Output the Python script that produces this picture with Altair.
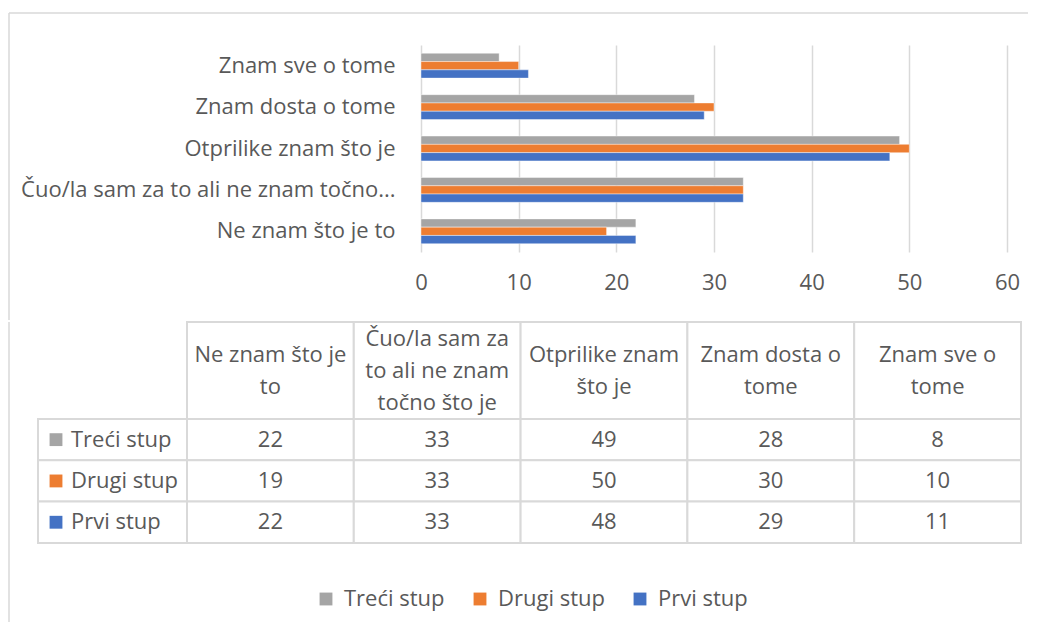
import altair as alt
import pandas as pd

# ---- data ----
categories = ["Ne znam što je to", "Čuo/la sam za to ali ne znam točno što je",
              "Otprilike znam što je", "Znam dosta o tome", "Znam sve o tome"]
axis_labels = ["Ne znam što je to", "Čuo/la sam za to ali ne znam točno...",
               "Otprilike znam što je", "Znam dosta o tome", "Znam sve o tome"]
header_labels = ["Ne znam što je\nto", "Čuo/la sam za\nto ali ne znam\ntočno što je",
                 "Otprilike znam\nšto je", "Znam dosta o\ntome", "Znam sve o\ntome"]
series = ["Treći stup", "Drugi stup", "Prvi stup"]
treci_stup = [22, 33, 49, 28, 8]
drugi_stup = [19, 33, 50, 30, 10]
prvi_stup = [22, 33, 48, 29, 11]
x_ticks = [0, 10, 20, 30, 40, 50, 60]
series_colors = ["#A5A5A5", "#ED7D31", "#4472C4"]

# ---- style / layout ----
FONT = "Open Sans"
TEXT = "#595959"
GRID = "#D9D9D9"
FS = 22
LINE_H = 32

PANEL_W = 983
BAR_H = 207
BAR_BLOCK = 275          # bar panel block height down to the table top
PLOT_X0, PLOT_X1 = 383, 969
HEAD_COL_W = 149
COL_W = (PANEL_W - HEAD_COL_W) / 5
HEAD_ROW_H = 97
ROW_H = 41.3
TABLE_H = HEAD_ROW_H + 3 * ROW_H

values = [treci_stup, drugi_stup, prvi_stup]

bar_df = pd.DataFrame([
    {"cat": lab, "series": s, "value": v}
    for s, vals in zip(series, values)
    for lab, v in zip(axis_labels, vals)
])

legend = alt.Legend(
    title=None, orient="none", legendX=277, legendY=543, direction="horizontal",
    symbolType="square", symbolSize=165, symbolStrokeWidth=0, symbolOpacity=1,
    labelFont=FONT, labelFontSize=FS, labelColor=TEXT, columnPadding=24, labelOffset=7,
)
color_scale = alt.Scale(domain=series, range=series_colors)

bars = alt.Chart(bar_df).mark_bar(stroke="white", strokeWidth=0.6, strokeOpacity=0.7).encode(
    x=alt.X("value:Q",
            scale=alt.Scale(domain=[0, 60], range=[PLOT_X0, PLOT_X1], nice=False, zero=True),
            axis=alt.Axis(values=x_ticks, title=None, ticks=False, domain=False, grid=True,
                          gridColor=GRID, gridWidth=1.5, labelFont=FONT, labelFontSize=FS,
                          labelColor=TEXT, labelPadding=20, labelFlush=False)),
    y=alt.Y("cat:N", sort=axis_labels[::-1],
            scale=alt.Scale(paddingInner=0.4, paddingOuter=0.2),
            axis=alt.Axis(title=None, ticks=False, domain=False, offset=-PLOT_X0,
                          labelPadding=26, labelFont=FONT, labelFontSize=FS,
                          labelColor=TEXT, labelLimit=600)),
    yOffset=alt.YOffset("series:N", sort=series,
                        scale=alt.Scale(paddingInner=0, paddingOuter=0)),
    color=alt.Color("series:N", scale=color_scale, legend=legend),
)

one = pd.DataFrame({"k": [0]})
frame_top = alt.Chart(one).mark_rule(color=GRID, strokeWidth=1.5).encode(
    x=alt.value(-29), x2=alt.value(990), y=alt.value(-32))
frame_left_a = alt.Chart(one).mark_rule(color=GRID, strokeWidth=1.5).encode(
    x=alt.value(-29), y=alt.value(-32), y2=alt.value(BAR_BLOCK))

bar_panel = alt.layer(frame_top, frame_left_a, bars).properties(width=PANEL_W, height=BAR_H)

# ---- table ----
cells = []
for i, lab in enumerate(header_labels):
    x1 = HEAD_COL_W + i * COL_W
    n_lines = lab.count("\n") + 1
    cells.append({"x1": x1, "x2": x1 + COL_W, "y1": 0, "y2": HEAD_ROW_H,
                  "xc": x1 + COL_W / 2, "yc": HEAD_ROW_H / 2 - (n_lines - 1) * LINE_H / 2,
                  "label": lab, "kind": "head"})
for r, (s, vals) in enumerate(zip(series, values)):
    y1 = HEAD_ROW_H + r * ROW_H
    cells.append({"x1": 0, "x2": HEAD_COL_W, "y1": y1, "y2": y1 + ROW_H,
                  "xc": 33, "yc": y1 + ROW_H / 2, "label": s, "kind": "rowhead",
                  "series": s, "sx": 18})
    for i, v in enumerate(vals):
        x1 = HEAD_COL_W + i * COL_W
        cells.append({"x1": x1, "x2": x1 + COL_W, "y1": y1, "y2": y1 + ROW_H,
                      "xc": x1 + COL_W / 2, "yc": y1 + ROW_H / 2, "label": str(v),
                      "kind": "value"})
cells_df = pd.DataFrame(cells)

xs = alt.Scale(domain=[0, PANEL_W], nice=False, zero=False)
ys = alt.Scale(domain=[0, TABLE_H], nice=False, zero=False, reverse=True)

base = alt.Chart(cells_df)
rects = base.mark_rect(fill="white", stroke=GRID, strokeWidth=2).encode(
    x=alt.X("x1:Q", scale=xs, axis=None), x2="x2:Q",
    y=alt.Y("y1:Q", scale=ys, axis=None), y2="y2:Q")
center_text = base.mark_text(font=FONT, fontSize=FS, color=TEXT, align="center",
                             baseline="middle", lineBreak="\n", lineHeight=LINE_H).encode(
    x=alt.X("xc:Q", scale=xs, axis=None), y=alt.Y("yc:Q", scale=ys, axis=None),
    text="label:N").transform_filter("datum.kind != 'rowhead'")
row_text = base.mark_text(font=FONT, fontSize=FS, color=TEXT, align="left",
                          baseline="middle").encode(
    x=alt.X("xc:Q", scale=xs, axis=None), y=alt.Y("yc:Q", scale=ys, axis=None),
    text="label:N").transform_filter("datum.kind == 'rowhead'")
row_sq = base.mark_square(size=165, opacity=1).encode(
    x=alt.X("sx:Q", scale=xs, axis=None), y=alt.Y("yc:Q", scale=ys, axis=None),
    color=alt.Color("series:N", scale=color_scale, legend=legend)
).transform_filter("datum.kind == 'rowhead'")
frame_left_b = alt.Chart(one).mark_rule(color=GRID, strokeWidth=1.5).encode(
    x=alt.value(-29), y=alt.value(0), y2=alt.value(300))

table_panel = alt.layer(frame_left_b, rects, center_text, row_text, row_sq).properties(
    width=PANEL_W, height=TABLE_H)

chart = alt.vconcat(bar_panel, table_panel, spacing=0).properties(
    padding={"left": 0, "top": 4, "right": 0, "bottom": 0}
).configure_view(stroke=None)

chart.save("out.html", embed_options={"renderer": "svg", "actions": False})
